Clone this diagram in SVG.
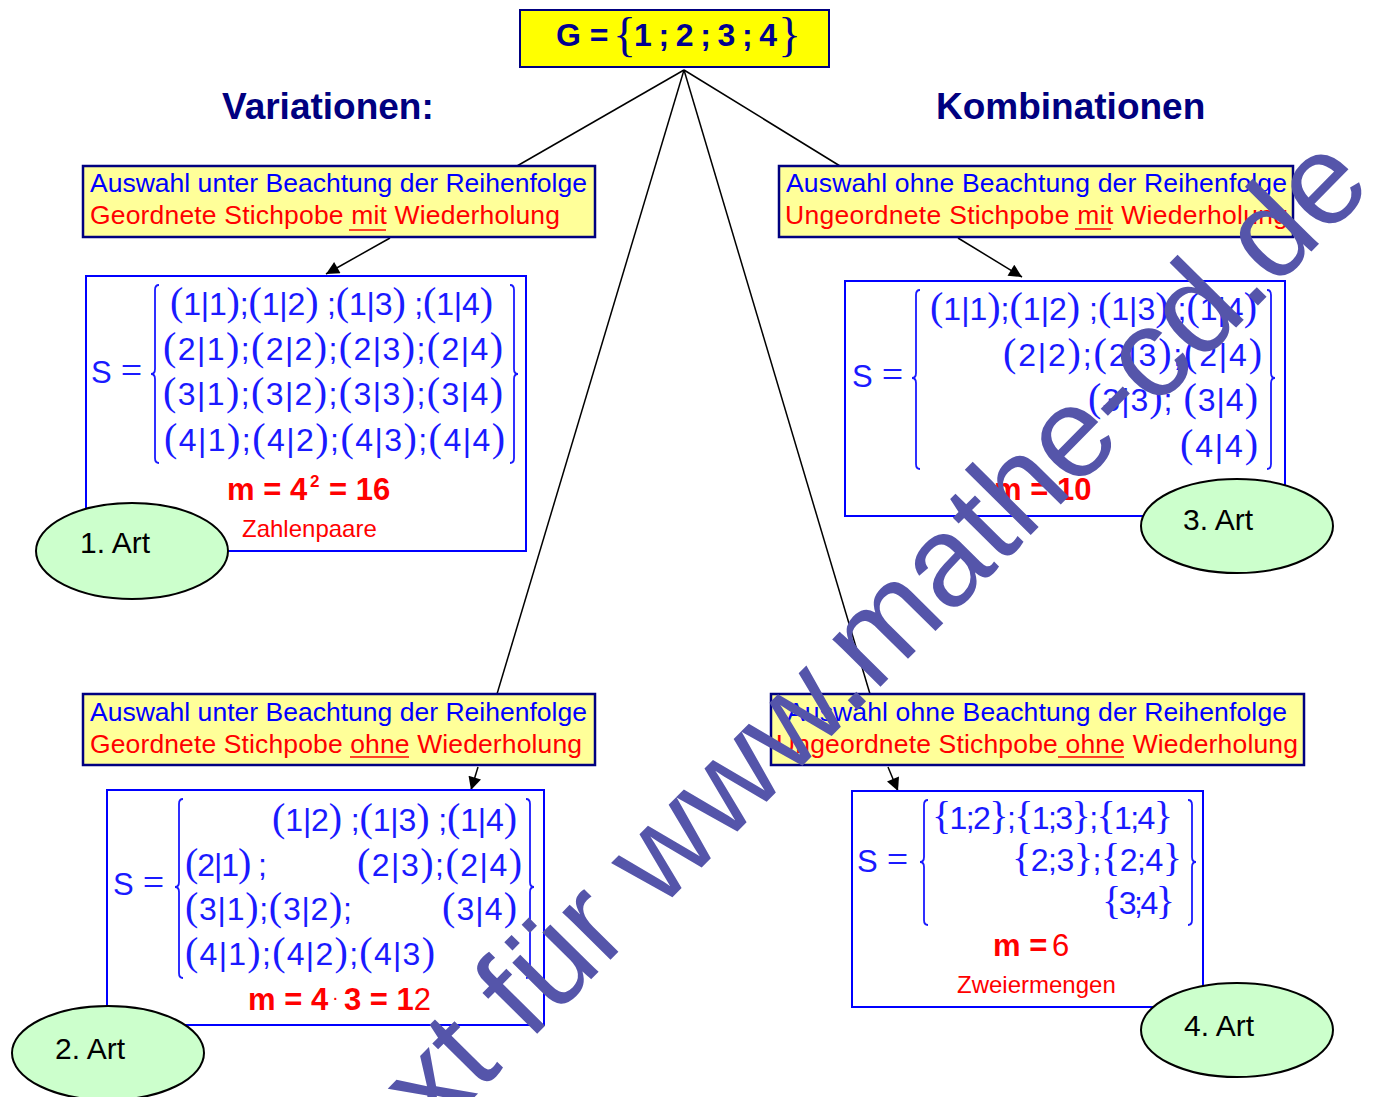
<svg xmlns="http://www.w3.org/2000/svg" width="1381" height="1097" viewBox="0 0 1381 1097">
<defs>
<style>
.yb{fill:#FFFF99;stroke:#000080;stroke-width:2.5}
.bb{fill:#FFFFFF;stroke:#0000FF;stroke-width:2}
.el{fill:#CCFFCC;stroke:#000000;stroke-width:2}
.t1{font-family:"Liberation Sans",Arial,sans-serif;font-size:26.5px;fill:#0000FF}
.t2{font-family:"Liberation Sans",Arial,sans-serif;font-size:26.5px;fill:#FF0000}
.ul{stroke:#FF0000;stroke-width:1.5}
.hd{font-family:"Liberation Sans",Arial,sans-serif;font-size:37px;font-weight:bold;fill:#000080}
.g{font-family:"Liberation Sans",Arial,sans-serif;font-size:32px;font-weight:bold;fill:#000090}
.gb{font-family:"Liberation Serif","Times New Roman",serif;font-size:48px;fill:#000090}
.mt{font-family:"Liberation Sans",Arial,sans-serif;font-size:32px;fill:#1A1AFF}
.pr{font-family:"Liberation Serif","Times New Roman",serif;font-size:40px}
.s{font-family:"Liberation Sans",Arial,sans-serif;font-size:31px;fill:#1A1AFF}
.eq{font-family:"Liberation Serif","Times New Roman",serif;font-size:38px}
.br{fill:none;stroke:#1A1AFF;stroke-width:1.8}
.mb{font-family:"Liberation Sans",Arial,sans-serif;font-size:31px;font-weight:bold;fill:#FF0000}
.mr{font-family:"Liberation Sans",Arial,sans-serif;font-size:31px;font-weight:normal;fill:#FF0000}
.lab{font-family:"Liberation Sans",Arial,sans-serif;font-size:24px;fill:#FF0000}
.art{font-family:"Liberation Sans",Arial,sans-serif;font-size:30px;fill:#000000}
.cn{stroke:#000000;stroke-width:1.5;fill:none}
.wm{font-family:"Liberation Sans",Arial,sans-serif;font-size:128px;fill:#5555AA}
</style>
<marker id="ah" viewBox="0 0 10 10" refX="10" refY="5" markerWidth="16" markerHeight="13" markerUnits="userSpaceOnUse" orient="auto">
<path d="M0,0 L10,5 L0,10 z" fill="#000000"/>
</marker>
</defs>
<rect width="1381" height="1097" fill="#FFFFFF"/>

<g id="connectors">
<line class="cn" x1="684" y1="70" x2="517" y2="166"/>
<line class="cn" x1="684" y1="70" x2="840" y2="166"/>
<line class="cn" x1="684" y1="70" x2="497" y2="694"/>
<line class="cn" x1="684" y1="70" x2="870" y2="694"/>
<line class="cn" x1="390" y1="238" x2="326" y2="274" marker-end="url(#ah)"/>
<line class="cn" x1="958" y1="238" x2="1022" y2="277" marker-end="url(#ah)"/>
<line class="cn" x1="478" y1="767" x2="471" y2="790" marker-end="url(#ah)"/>
<line class="cn" x1="888" y1="767" x2="898" y2="791" marker-end="url(#ah)"/>
</g>

<g id="root">
<rect x="520" y="10" width="309" height="57" fill="#FFFF00" stroke="#000080" stroke-width="2"/>
<text class="g" x="556" y="46">G =</text>
<text class="gb" x="613" y="51">{</text>
<text class="g" x="634" y="46" textLength="143">1;2;3;4</text>
<text class="gb" x="778" y="51">}</text>
</g>

<g id="heading-variationen"><text class="hd" x="222" y="119">Variationen:</text></g>
<g id="heading-kombinationen"><text class="hd" x="936" y="119">Kombinationen</text></g>

<g id="desc1">
<rect class="yb" x="83" y="166" width="512" height="71"/>
<text class="t1" x="90" y="192" textLength="497">Auswahl unter Beachtung der Reihenfolge</text>
<text class="t2" x="90" y="224" textLength="470">Geordnete Stichpobe mit Wiederholung</text>
<line class="ul" x1="349" y1="230" x2="386" y2="230"/>
</g>

<g id="desc3">
<rect class="yb" x="779" y="166" width="514" height="71"/>
<text class="t1" x="786" y="192" textLength="501">Auswahl ohne Beachtung der Reihenfolge</text>
<text class="t2" x="785" y="224" textLength="503">Ungeordnete Stichpobe mit Wiederholung</text>
<line class="ul" x1="1075" y1="229" x2="1111" y2="229"/>
</g>

<g id="desc2">
<rect class="yb" x="83" y="694" width="512" height="71"/>
<text class="t1" x="90" y="721" textLength="497">Auswahl unter Beachtung der Reihenfolge</text>
<text class="t2" x="90" y="753" textLength="492">Geordnete Stichpobe ohne Wiederholung</text>
<line class="ul" x1="350" y1="757" x2="409" y2="757"/>
</g>

<g id="desc4">
<rect class="yb" x="771" y="694" width="533" height="71"/>
<text class="t1" x="787" y="721" textLength="500">Auswahl ohne Beachtung der Reihenfolge</text>
<text class="t2" x="776" y="753" textLength="522">Ungeordnete Stichpobe ohne Wiederholung</text>
<line class="ul" x1="1058" y1="757" x2="1124" y2="757"/>
</g>

<g id="set1">
<rect class="bb" x="86" y="276" width="440" height="275"/>
<text class="s" x="91" y="383">S<tspan class="eq" dx="9">=</tspan></text>
<path class="br" d="M159,285 Q155,285 155,290 L155,369 Q155,374 151,374 Q155,374 155,379 L155,458 Q155,463 159,463"/>
<path class="br" d="M510,285 Q514,285 514,290 L514,369 Q514,374 518,374 Q514,374 514,379 L514,458 Q514,463 510,463"/>
<text class="mt" x="170" y="315" textLength="323"><tspan class="pr">(</tspan>1|1<tspan class="pr">)</tspan>;<tspan class="pr">(</tspan>1|2<tspan class="pr">)</tspan> ;<tspan class="pr">(</tspan>1|3<tspan class="pr">)</tspan> ;<tspan class="pr">(</tspan>1|4<tspan class="pr">)</tspan></text>
<text class="mt" x="163" y="360" textLength="340"><tspan class="pr">(</tspan>2|1<tspan class="pr">)</tspan>;<tspan class="pr">(</tspan>2|2<tspan class="pr">)</tspan>;<tspan class="pr">(</tspan>2|3<tspan class="pr">)</tspan>;<tspan class="pr">(</tspan>2|4<tspan class="pr">)</tspan></text>
<text class="mt" x="163" y="405" textLength="340"><tspan class="pr">(</tspan>3|1<tspan class="pr">)</tspan>;<tspan class="pr">(</tspan>3|2<tspan class="pr">)</tspan>;<tspan class="pr">(</tspan>3|3<tspan class="pr">)</tspan>;<tspan class="pr">(</tspan>3|4<tspan class="pr">)</tspan></text>
<text class="mt" x="164" y="451" textLength="341"><tspan class="pr">(</tspan>4|1<tspan class="pr">)</tspan>;<tspan class="pr">(</tspan>4|2<tspan class="pr">)</tspan>;<tspan class="pr">(</tspan>4|3<tspan class="pr">)</tspan>;<tspan class="pr">(</tspan>4|4<tspan class="pr">)</tspan></text>
<text class="mb" x="227" y="500">m = 4</text>
<text class="mb" x="310" y="487" style="font-size:17px">2</text>
<text class="mb" x="329" y="500">= 16</text>
<text class="lab" x="242" y="537">Zahlenpaare</text>
</g>

<g id="set3">
<rect class="bb" x="845" y="281" width="440" height="235"/>
<text class="s" x="852" y="387">S<tspan class="eq" dx="9">=</tspan></text>
<path class="br" d="M920,290 Q916,290 916,295 L916,373 Q916,378 912,378 Q916,378 916,383 L916,464 Q916,469 920,469"/>
<path class="br" d="M1267,290 Q1271,290 1271,295 L1271,373 Q1271,378 1275,378 Q1271,378 1271,383 L1271,464 Q1271,469 1267,469"/>
<text class="mt" x="930" y="320" textLength="327"><tspan class="pr">(</tspan>1|1<tspan class="pr">)</tspan>;<tspan class="pr">(</tspan>1|2<tspan class="pr">)</tspan> ;<tspan class="pr">(</tspan>1|3<tspan class="pr">)</tspan> ;<tspan class="pr">(</tspan>1|4<tspan class="pr">)</tspan></text>
<text class="mt" x="1003" y="366" textLength="259"><tspan class="pr">(</tspan>2|2<tspan class="pr">)</tspan>;<tspan class="pr">(</tspan>2|3<tspan class="pr">)</tspan>;<tspan class="pr">(</tspan>2|4<tspan class="pr">)</tspan></text>
<text class="mt" x="1088" y="411" textLength="170"><tspan class="pr">(</tspan>3|3<tspan class="pr">)</tspan>; <tspan class="pr">(</tspan>3|4<tspan class="pr">)</tspan></text>
<text class="mt" x="1180" y="457" textLength="78"><tspan class="pr">(</tspan>4|4<tspan class="pr">)</tspan></text>
<text class="mb" x="994" y="500">m = 10</text>
</g>

<g id="set2">
<rect class="bb" x="107" y="790" width="437" height="235"/>
<text class="s" x="113" y="895">S<tspan class="eq" dx="9">=</tspan></text>
<path class="br" d="M183,799 Q179,799 179,804 L179,882 Q179,887 175,887 Q179,887 179,892 L179,973 Q179,978 183,978"/>
<path class="br" d="M526,799 Q530,799 530,804 L530,882 Q530,887 534,887 Q530,887 530,892 L530,973 Q530,978 526,978"/>
<text class="mt" x="272" y="831" textLength="245"><tspan class="pr">(</tspan>1|2<tspan class="pr">)</tspan> ;<tspan class="pr">(</tspan>1|3<tspan class="pr">)</tspan> ;<tspan class="pr">(</tspan>1|4<tspan class="pr">)</tspan></text>
<text class="mt" x="185" y="876" textLength="82"><tspan class="pr">(</tspan>2|1<tspan class="pr">)</tspan> ;</text>
<text class="mt" x="357" y="876" textLength="165"><tspan class="pr">(</tspan>2|3<tspan class="pr">)</tspan>;<tspan class="pr">(</tspan>2|4<tspan class="pr">)</tspan></text>
<text class="mt" x="185" y="920" textLength="167"><tspan class="pr">(</tspan>3|1<tspan class="pr">)</tspan>;<tspan class="pr">(</tspan>3|2<tspan class="pr">)</tspan>;</text>
<text class="mt" x="442" y="920" textLength="75"><tspan class="pr">(</tspan>3|4<tspan class="pr">)</tspan></text>
<text class="mt" x="185" y="965" textLength="250"><tspan class="pr">(</tspan>4|1<tspan class="pr">)</tspan>;<tspan class="pr">(</tspan>4|2<tspan class="pr">)</tspan>;<tspan class="pr">(</tspan>4|3<tspan class="pr">)</tspan></text>
<text class="mb" x="248" y="1010">m = 4</text>
<text class="mr" x="332" y="1004" style="font-size:20px">·</text>
<text class="mb" x="344" y="1010">3 = 1<tspan class="mr">2</tspan></text>
</g>

<g id="set4">
<rect class="bb" x="852" y="791" width="351" height="216"/>
<text class="s" x="857" y="872">S<tspan class="eq" dx="9">=</tspan></text>
<path class="br" d="M928,800 Q924,800 924,805 L924,857 Q924,862 920,862 Q924,862 924,867 L924,920 Q924,925 928,925"/>
<path class="br" d="M1188,800 Q1192,800 1192,805 L1192,857 Q1192,862 1196,862 Q1192,862 1192,867 L1192,920 Q1192,925 1188,925"/>
<text class="mt" x="932" y="829" textLength="241"><tspan class="pr">{</tspan>1;2<tspan class="pr">}</tspan>;<tspan class="pr">{</tspan>1;3<tspan class="pr">}</tspan>;<tspan class="pr">{</tspan>1;4<tspan class="pr">}</tspan></text>
<text class="mt" x="1012" y="871" textLength="170"><tspan class="pr">{</tspan>2;3<tspan class="pr">}</tspan>;<tspan class="pr">{</tspan>2;4<tspan class="pr">}</tspan></text>
<text class="mt" x="1102" y="914" textLength="73"><tspan class="pr">{</tspan>3;4<tspan class="pr">}</tspan></text>
<text class="mb" x="993" y="956">m =</text>
<text class="mr" x="1052" y="956">6</text>
<text class="lab" x="957" y="993">Zweiermengen</text>
</g>

<g id="art1"><ellipse class="el" cx="132" cy="551" rx="96" ry="48"/><text class="art" x="80" y="553">1. Art</text></g>
<g id="art3"><ellipse class="el" cx="1237" cy="526" rx="96" ry="47"/><text class="art" x="1183" y="530">3. Art</text></g>
<g id="art2"><ellipse class="el" cx="108" cy="1053" rx="96" ry="47"/><text class="art" x="55" y="1059">2. Art</text></g>
<g id="art4"><ellipse class="el" cx="1237" cy="1030" rx="96" ry="47"/><text class="art" x="1184" y="1036">4. Art</text></g>

<g id="watermark">
<text class="wm" transform="translate(339,1234) rotate(-45.3)">Text für www.mathe-cd.de</text>
</g>
</svg>
